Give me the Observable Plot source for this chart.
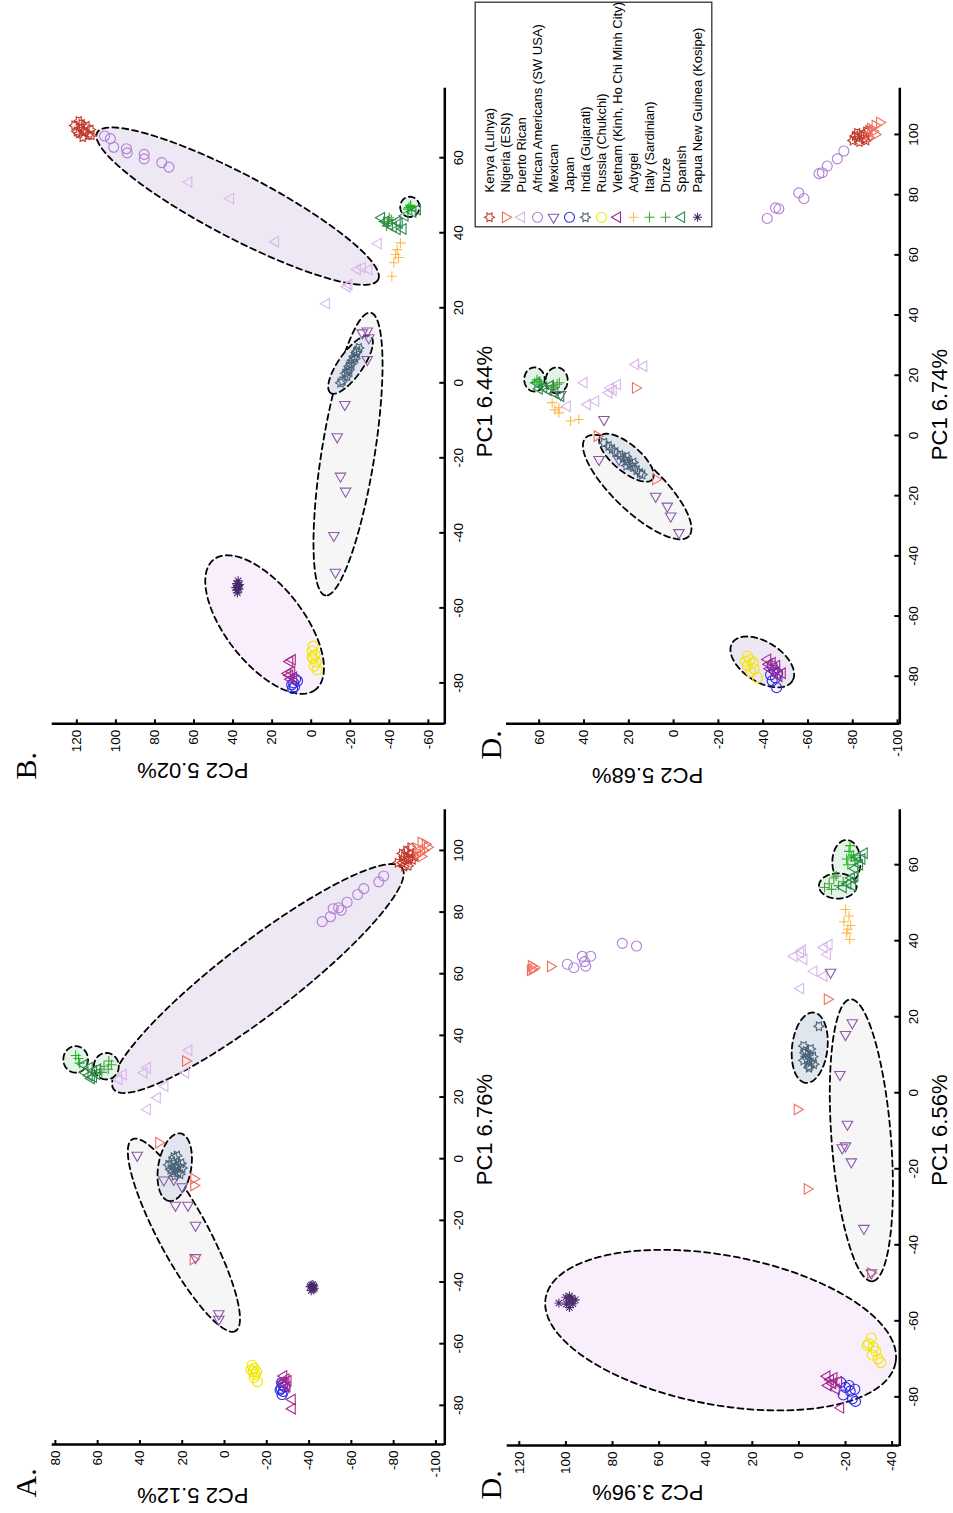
<!DOCTYPE html>
<html><head><meta charset="utf-8">
<script src="https://cdn.jsdelivr.net/npm/d3@7"></script>
<script src="https://cdn.jsdelivr.net/npm/@observablehq/plot@0.6"></script>
<style>
html,body{margin:0;padding:0;width:953px;height:1513px;overflow:hidden;background:#fff;}
#fig{position:absolute;left:0;top:0;width:1513px;height:953px;transform-origin:0 0;transform:translate(0px,1513px) rotate(-90deg);font-family:"Liberation Sans",Arial,sans-serif;}
.panel{position:absolute;}
</style></head><body><div id="fig"></div><script>
// ---------- groups ----------
const groupKeys = ["kenya","nigeria","puerto","afam","mexican","japan","india","russia","vietnam","adygei","italy","druze","spanish","papua"];
const groupLabels = ["Kenya (Luhya)","Nigeria (ESN)","Puerto Rican","African Americans (SW USA)","Mexican","Japan","India (Gujarati)","Russia (Chukchi)","Vietnam (Kinh, Ho Chi Minh City)","Adygei","Italy (Sardinian)","Druze","Spanish","Papua New Guinea (Kosipe)"];
const groupColors = ["#C0392B","#F07060","#D8B6EA","#B07FD6","#8A5AA6","#2B2BE6","#4A6378","#F2E600","#A3288C","#FFB84A","#1FB51F","#45A33A","#2E8B4A","#4B2A6B"];
const groupShapes = ["hexagram","triDown","triUp","circle","triLeft","circle","hexagram","circle","triUp","plus","plus","plus","triUp","asterisk"];

// ---------- panel titles ----------
const panelLetters = ["A.","B.","D.","D."];
const xTitles = ["PC1 6.76%","PC1 6.44%","PC1 6.56%","PC1 6.74%"];
const yTitles = ["PC2 5.12%","PC2 5.02%","PC2 3.96%","PC2 5.68%"];

// ---------- ticks ----------
const xTicksA = [-80,-60,-40,-20,0,20,40,60,80,100];
const yTicksA = [-100,-80,-60,-40,-20,0,20,40,60,80];
const xTicksB = [-80,-60,-40,-20,0,20,40,60];
const yTicksB = [-60,-40,-20,0,20,40,60,80,100,120];
const xTicksDL = [-80,-60,-40,-20,0,20,40,60];
const yTicksDL = [-40,-20,0,20,40,60,80,100,120];
const xTicksDR = [-80,-60,-40,-20,0,20,40,60,80,100];
const yTicksDR = [-100,-80,-60,-40,-20,0,20,40,60];

// ---------- points [group, PC1, PC2] ----------
const pointsA = [
["kenya",96,-84],["kenya",97,-86],["kenya",98,-85],["kenya",99,-88],["kenya",95,-87],["kenya",97,-89],["kenya",100,-86],["kenya",98,-90],["kenya",96,-82],["kenya",94.8,-85],["kenya",99,-84],["kenya",101,-88],["kenya",97.5,-87.5],
["nigeria",99,-92],["nigeria",100,-94],["nigeria",101,-96],["nigeria",102,-95],["nigeria",98,-93],["nigeria",100.5,-91.5],["nigeria",102.6,-93],["nigeria",31.7,18.4],["nigeria",5.2,31.1],["nigeria",-6.5,14.5],["nigeria",-8.7,14.5],["nigeria",-32.7,14.8],
["puerto",25.7,50],["puerto",27.3,47.9],["puerto",27.9,38.1],["puerto",29.5,36.5],["puerto",19.8,31.8],["puerto",23.5,28.2],["puerto",16,36.5],["puerto",35.2,16.9],["puerto",27.9,18.4],
["afam",76.9,-46.2],["afam",78.5,-50.1],["afam",81.1,-51.4],["afam",81.4,-54],["afam",80.6,-55.2],["afam",83.2,-58],["afam",85.7,-63],["afam",87.6,-65.9],["afam",89.8,-73],["afam",91.7,-75.3],
["mexican",1.1,41.3],["mexican",-6.9,28.7],["mexican",-6.7,24],["mexican",-9.1,20],["mexican",-15.1,23.2],["mexican",-15.1,17.3],["mexican",-21.6,13.7],["mexican",-32.1,13.7],["mexican",-50.3,2.7],["mexican",-52.1,2.7],
["india",-3,23],["india",-2,22],["india",-4,24.5],["india",-1,25],["india",-5,21],["india",-3,20],["india",-2,26.5],["india",-4.5,22],["india",0.5,24],["india",-5.5,23.5],["india",-2.5,24],["india",1,22.5],["india",-1.5,20.5],["india",-3.5,25.5],
["russia",-67,-13],["russia",-68,-14],["russia",-69,-13.5],["russia",-70,-14.5],["russia",-69,-15.2],["russia",-71,-14],["russia",-72.3,-15.6],["russia",-68.5,-12.6],
["japan",-72.6,-27],["japan",-73.5,-27.5],["japan",-74.5,-26.8],["japan",-75.5,-27.8],["japan",-76.5,-27.2],["japan",-74,-28.5],["japan",-75,-26.3],
["vietnam",-70.5,-28],["vietnam",-71.5,-29],["vietnam",-72,-30],["vietnam",-73,-28.5],["vietnam",-74,-29.5],["vietnam",-72.5,-27.5],["vietnam",-78.1,-32],["vietnam",-81.1,-32],
["papua",-41.8,-41.5],["papua",-41,-41],["papua",-42.5,-42],["papua",-41.5,-40.5],["papua",-42,-42.5],["papua",-40.8,-41.8],["papua",-42.8,-41],["papua",-41.3,-42.3],
["italy",33.5,70.4],["italy",32.5,69],["italy",31,68.5],
["druze",31.7,54.7],["druze",30,57],["druze",29,55],["druze",30.5,53.5],["druze",28,58],
["spanish",29.5,64],["spanish",28.5,62],["spanish",27.5,60.5],["spanish",26.5,62],["spanish",28,66],["spanish",27,64],["spanish",26,63],["spanish",29,60],["spanish",30.5,66.5]
];
const pointsB = [
["kenya",66,114],["kenya",67,116],["kenya",68,118],["kenya",66.5,119],["kenya",67.5,113],["kenya",68.5,115],["kenya",65.5,117],["kenya",69,117.5],["kenya",67,120],["kenya",68.6,121.2],["kenya",66,112.5],["kenya",69.8,119],
["afam",65.8,105.8],["afam",65.1,102.8],["afam",62.8,101.1],["afam",62.4,94.6],["afam",61.3,94.2],["afam",60.9,85.5],["afam",59.7,85.5],["afam",58.7,76.5],["afam",57.5,72.8],
["puerto",53.5,62.7],["puerto",49.1,41.3],["puerto",37.6,18.3],["puerto",26.2,-19.3],["puerto",25.6,-18.4],["puerto",30.2,-23.6],["puerto",30.7,-26.1],["puerto",30.2,-29.5],["puerto",37.1,-34.3],["puerto",21.1,-7.8],
["adygei",37.3,-45.7],["adygei",34.2,-43.2],["adygei",32,-42.3],["adygei",33.4,-44.7],["adygei",28.4,-41.3],["adygei",35.5,-44],
["spanish",44,-36],["spanish",43,-38],["spanish",42,-40],["spanish",41.5,-42],["spanish",43,-44],["spanish",42.5,-45],["spanish",41,-47],["spanish",44.5,-48],["spanish",46.2,-54.3],["spanish",45.5,-52],["spanish",40.9,-44],
["druze",43,-37],["druze",42.5,-39],["druze",44,-40],["druze",41.8,-38.5],["druze",43.5,-41],
["italy",46.7,-50],["italy",47,-51],["italy",46.3,-49.5],["italy",47.3,-50.8],["italy",46,-51.5],
["india",9.3,-24.4],["india",8,-23],["india",7,-22],["india",6,-21],["india",5,-20.5],["india",4.4,-19.3],["india",3,-18.5],["india",1.8,-18.4],["india",0.5,-16],["india",0,-15],["india",2.5,-17.5],["india",6.5,-22.5],["india",8.5,-23.5],["india",3.5,-19.5],
["mexican",13.3,-26.1],["mexican",13.8,-28.7],["mexican",12,-29.5],["mexican",6.2,-28.7],["mexican",-5.8,-17.2],["mexican",-14.4,-13.3],["mexican",-24.9,-15],["mexican",-28.9,-17.6],["mexican",-40.7,-11.6],["mexican",-50.5,-12.4],
["papua",-54.2,37.6],["papua",-53.5,38.2],["papua",-55,37],["papua",-54.6,38.6],["papua",-53.8,36.8],["papua",-55.2,38],["papua",-54,37.2],["papua",-56,37.8],["papua",-52.8,37.4],
["vietnam",-73.8,9.7],["vietnam",-74.3,11],["vietnam",-77,10],["vietnam",-78,11],["vietnam",-78.5,9],["vietnam",-77.5,12],["vietnam",-79,10.5],
["japan",-79,8],["japan",-80,9],["japan",-81,8.5],["japan",-80.5,10],["japan",-79.5,7],["japan",-81.5,9.5],
["russia",-70.2,-1],["russia",-71.5,-0.5],["russia",-72.5,-2],["russia",-73.5,-1],["russia",-74.5,-2.5],["russia",-75.5,-1.5],["russia",-76.5,-3],["russia",-73,-0.5]
];
const pointsDL = [
["nigeria",32.4,114.4],["nigeria",32.9,113.7],["nigeria",33.4,114.8],["nigeria",32.2,115.2],["nigeria",33.2,106.6],["nigeria",24.6,-12.2],["nigeria",-4.4,0.7],["nigeria",-25.3,-3.6],["nigeria",-47.4,-30.8],
["afam",33.8,99.4],["afam",32.9,96.6],["afam",35.9,93],["afam",33.3,91.5],["afam",35.9,89.4],["afam",34.5,92],["afam",39.3,75.8],["afam",38.6,69.7],
["puerto",35.9,2.1],["puerto",36.8,-0.7],["puerto",35.1,-2.1],["puerto",38.2,-10.7],["puerto",39,-12.9],["puerto",36.4,-12.2],["puerto",32,-6.4],["puerto",30.7,-10.7],["puerto",27.4,-0.7],["puerto",37.5,-1.5],
["mexican",31.7,-13.6],["mexican",18.4,-22.9],["mexican",15.3,-20],["mexican",4.8,-17.6],["mexican",-8.3,-20.8],["mexican",-14,-20],["mexican",-14.5,-18.6],["mexican",-18.2,-22.5],["mexican",-35.7,-27.9],["mexican",-47.4,-31.1],
["india",12.3,-2],["india",11,-3],["india",10,-4],["india",9,-3.5],["india",8,-5],["india",7,-4.5],["india",6.6,-4.3],["india",9.5,-6],["india",10.5,-2.5],["india",8.5,-2],["india",7.5,-6.4],["india",11.5,-5],["india",17.5,-8.6],
["adygei",48.2,-20],["adygei",46.5,-21.5],["adygei",45,-19.3],["adygei",44,-22.2],["adygei",42,-20.5],["adygei",40.3,-21.8],["adygei",43,-21],
["italy",60,-21],["italy",62,-22.5],["italy",63.5,-21.5],["italy",65,-22],["italy",61,-24],["italy",62.5,-23.5],["italy",61.5,-20.5],
["druze",54,-11],["druze",55,-13],["druze",56.5,-15],["druze",54.5,-17],["druze",55.5,-19],["druze",57,-16],["druze",53.5,-14],
["spanish",59,-24],["spanish",60,-26],["spanish",61.5,-27],["spanish",63,-28],["spanish",62,-25],["spanish",54,-19],["spanish",55,-21],["spanish",56.5,-22.5],["spanish",57,-24],["spanish",54.5,-23],
["vietnam",-74.6,-12],["vietnam",-75.5,-13.5],["vietnam",-76.5,-14.5],["vietnam",-77,-12.5],["vietnam",-78,-16],["vietnam",-76,-17],["vietnam",-75,-15],["vietnam",-82.9,-17.9],
["japan",-76.2,-18],["japan",-77.5,-20],["japan",-78.5,-22],["japan",-79.5,-19],["japan",-80.5,-23],["japan",-81.2,-24.3],["japan",-78,-24],["japan",-77,-21.5],
["russia",-64.5,-31],["russia",-66,-30],["russia",-67,-32],["russia",-68,-33],["russia",-69,-31.5],["russia",-70,-34],["russia",-71,-35.1],["russia",-66.5,-29.3],
["papua",-54.8,98.7],["papua",-54,97.5],["papua",-55.6,99.8],["papua",-53.8,100],["papua",-55.5,97],["papua",-54.5,96],["papua",-56.5,98.5],["papua",-53.5,98.5],["papua",-55.3,103]
];
const pointsDR = [
["kenya",98,-80],["kenya",99,-82],["kenya",100,-84],["kenya",101,-86],["kenya",98.5,-85],["kenya",99.5,-81],["kenya",97.5,-83],["kenya",100.5,-82],["kenya",101.5,-87],["kenya",98,-86],
["nigeria",102,-88],["nigeria",103,-90],["nigeria",104,-92],["nigeria",101,-89],["nigeria",99,-87],["nigeria",100,-90],["nigeria",15.8,17],["nigeria",-0.2,34.1],["nigeria",-14.6,8],
["afam",72.1,-41.8],["afam",75.6,-45.5],["afam",75.3,-47],["afam",80.6,-55.9],["afam",78.7,-58.2],["afam",87,-64.9],["afam",87.3,-66.4],["afam",89.5,-68.6],["afam",91.9,-73.1],["afam",94.5,-76],
["puerto",23.6,17],["puerto",23,13.3],["puerto",17.5,40],["puerto",15.8,28.1],["puerto",16.9,25.1],["puerto",14.2,28.9],["puerto",11.4,34.8],["puerto",10.3,38.5],["puerto",9.7,47.5],["puerto",15,27],
["mexican",13.6,50.4],["mexican",5.3,31.1],["mexican",-8,33.3],["mexican",-8,24.4],["mexican",-20.2,8],["mexican",-23.5,2.8],["mexican",-26.8,1.3],["mexican",-32.3,-2.4],
["india",-2.4,31],["india",-3.5,29],["india",-4.5,27.5],["india",-5.5,26],["india",-6.5,24],["india",-7.5,22.5],["india",-8.5,21],["india",-9.5,19.5],["india",-10.5,18],["india",-11.5,16.5],["india",-12.5,15],["india",-13,14],["india",-9,18],["india",-7,21],["india",-10,21],
["adygei",10.9,54.2],["adygei",9.2,51.2],["adygei",7.5,51.2],["adygei",4.8,46],["adygei",5.3,42.3],["adygei",8.5,53],
["italy",18,60],["italy",17.5,62],["italy",18.5,61],["italy",17,59],
["druze",17,52],["druze",16,53],["druze",17.5,51],["druze",16.5,54],
["spanish",17.5,61],["spanish",16,58],["spanish",15,56],["spanish",14,53],["spanish",13,50.4],["spanish",16.5,55],["spanish",15.5,60],
["vietnam",-74.4,-42],["vietnam",-75.5,-44],["vietnam",-76.5,-46],["vietnam",-77.5,-43],["vietnam",-78.5,-45],["vietnam",-80,-47],["vietnam",-79,-48.5],["vietnam",-76,-42.5],
["japan",-76.6,-44],["japan",-78,-45],["japan",-79,-46.5],["japan",-80.5,-45.5],["japan",-81.5,-44],["japan",-83.8,-46],["japan",-79.5,-43.3],
["russia",-73.3,-33],["russia",-74.5,-34],["russia",-75.5,-35.5],["russia",-76.5,-33],["russia",-77.5,-36],["russia",-78.5,-34.5],["russia",-80.5,-37.4],["russia",-75,-32.1]
];

// ---------- ellipses [fill, PC1 end1, PC2 end1, PC1 end2, PC2 end2, minor/major] ----------
const ellipsesA = [["lav",22.5,52.4,94.4,-84,0.2],["gray",6.3,43.6,-55.9,-5.2,0.23],["slate",8.2,20.8,-13.7,26.3,0.48],["green",36.5,70.4,27.9,70.4,0.93],["green",34.3,55.9,25.7,55.9,0.94]];
const ellipsesB = [["lav",66.7,109.6,27.5,-34.3,0.2],["gray",18.7,-30.4,-56.7,-7.3,0.185],["slate",12.4,-30.4,-2.7,-9.9,0.35],["pink",-47.1,49.9,-81.8,-2.2,0.47],["green",49.6,-50.5,44.2,-50.5,0.95]];
const ellipsesDL = [["pink",-53.9,108.7,-71,-41.5,0.42],["gray",24.6,-22.1,-49.6,-31.5,0.21],["slate",21.1,-6.4,2.6,-2.9,0.5],["green",66.5,-20.4,54.9,-20.4,0.64],["green",54.4,-8.6,54.4,-24.8,0.67]];
const ellipsesDR = [["lav2",-68.9,-26.2,-81.6,-53,0.56],["gray",-0.8,39.3,-33.5,-6.8,0.34],["slate",-0.2,32.6,-14.6,9.5,0.4],["green",22.6,62.1,14.6,62.1,0.85],["green",22.6,52.2,14,52.2,0.85]];
const ellipseFills = {lav:"#EEE7F4", gray:"#F6F6F6", slate:"#E1E5ED", green:"#E3F3E7", pink:"#F8EEFC", lav2:"#EDE7F3"};

// ---------- symbols ----------
function rr(s){ return Math.sqrt(s/Math.PI); }
const symbols = {
  circle:{draw(c,s){const r=rr(s); c.moveTo(r,0); c.arc(0,0,r,0,2*Math.PI);}},
  triUp:{draw(c,s){const r=rr(s)*1.05; c.moveTo(0,-1.15*r); c.lineTo(r,0.58*r); c.lineTo(-r,0.58*r); c.closePath();}},
  triDown:{draw(c,s){const r=rr(s)*1.05; c.moveTo(0,1.15*r); c.lineTo(r,-0.58*r); c.lineTo(-r,-0.58*r); c.closePath();}},
  triLeft:{draw(c,s){const r=rr(s)*1.05; c.moveTo(-1.15*r,0); c.lineTo(0.58*r,-r); c.lineTo(0.58*r,r); c.closePath();}},
  hexagram:{draw(c,s){const R=rr(s), q=R/Math.sqrt(3); for(let i=0;i<12;i++){const a=i*Math.PI/6-Math.PI/2, m=i%2?q:R; const x=m*Math.cos(a), y=m*Math.sin(a); if(i) c.lineTo(x,y); else c.moveTo(x,y);} c.closePath();}},
  plus:{draw(c,s){const r=rr(s); c.moveTo(-r,0); c.lineTo(r,0); c.moveTo(0,-r); c.lineTo(0,r);}},
  asterisk:{draw(c,s){const r=rr(s); for(let i=0;i<4;i++){const a=i*Math.PI/4; c.moveTo(-r*Math.cos(a),-r*Math.sin(a)); c.lineTo(r*Math.cos(a),r*Math.sin(a));}}}
};
const symbolR = {circle:5, triUp:5, triDown:5, triLeft:5, hexagram:5, plus:5, asterisk:4.5};

function ellipsePts(e, kx, ky){
  const [f,x1,y1,x2,y2,r] = e;
  const cx=(x1+x2)/2, cy=(y1+y2)/2, ux=(x2-x1)/2, uy=(y2-y1)/2;
  const vx=r*uy*ky/kx, vy=-r*ux*kx/ky;
  return d3.range(96).map(i=>{const t=i/96*2*Math.PI; return {x:cx+ux*Math.cos(t)+vx*Math.sin(t), y:cy+uy*Math.cos(t)+vy*Math.sin(t)};});
}

const fmt = d => String(d);
const fig = document.getElementById("fig");

function makePanel(cfg){
  const {left, top, width, height, ml, mr, mt, mb, xDomain, yDomain, xTicks, yTicks, points, ellipses, idx, xdx, xdy, ydx, ldx, ldy} = cfg;
  const iw = width-ml-mr, ih = height-mt-mb;
  const kx = iw/(xDomain[1]-xDomain[0]), ky = ih/(yDomain[1]-yDomain[0]);
  const marks = [];
  ellipses.forEach(e=>{
    marks.push(Plot.line(ellipsePts(e,kx,ky),{x:"x",y:"y",curve:"linear-closed",fill:ellipseFills[e[0]],stroke:"#000",strokeWidth:1.8,strokeDasharray:"6,4"}));
  });
  groupKeys.forEach((g,i)=>{
    const d = points.filter(p=>p[0]===g);
    if(!d.length) return;
    const sh = groupShapes[i];
    marks.push(Plot.dot(d,{x:p=>p[1],y:p=>p[2],r:symbolR[sh],symbol:symbols[sh],stroke:groupColors[i],fill:"none",strokeWidth:1.1}));
  });
  marks.push(Plot.ruleY([yDomain[0]],{stroke:"#000",strokeWidth:2.5}));
  marks.push(Plot.ruleX([xDomain[0]],{stroke:"#000",strokeWidth:2.5}));
  marks.push(Plot.ruleX(xTicks,{x:d=>d,insetTop:ih-5,stroke:"#000",strokeWidth:2}));
  marks.push(Plot.ruleY(yTicks,{y:d=>d,insetRight:iw-5,stroke:"#000",strokeWidth:2}));
  marks.push(Plot.text([xTitles[idx]],{text:d=>d,frameAnchor:"bottom",dx:xdx,dy:xdy,fontSize:22,lineAnchor:"bottom",fill:"#000"}));
  marks.push(Plot.text([yTitles[idx]],{text:d=>d,frameAnchor:"left",dx:ydx,rotate:-90,fontSize:22,lineAnchor:"bottom",fill:"#000"}));
  marks.push(Plot.text([panelLetters[idx]],{text:d=>d,frameAnchor:"top-left",dx:ldx,dy:ldy,fontSize:30,fontFamily:"Liberation Serif, Times New Roman, serif",textAnchor:"start",lineAnchor:"bottom",fill:"#000"}));
  const svg = Plot.plot({
    width, height, marginLeft:ml, marginRight:mr, marginTop:mt, marginBottom:mb,
    style:{background:"transparent",overflow:"visible",maxWidth:"none",fontSize:"13.5px",fontFamily:"Liberation Sans, Arial, sans-serif",color:"#000"},
    x:{domain:xDomain, ticks:xTicks, tickSize:0, tickPadding:9, tickFormat:fmt, label:null},
    y:{domain:yDomain, ticks:yTicks, tickSize:0, tickPadding:6, tickFormat:fmt, label:null},
    marks
  });
  const div = document.createElement("div");
  div.className="panel"; div.style.left=left+"px"; div.style.top=top+"px"; div.style.width=width+"px"; div.style.height=height+"px";
  div.appendChild(svg); fig.appendChild(div);
}

makePanel({idx:0,left:0,top:0,width:740,height:520,ml:68,mr:36.3,mt:51.7,mb:75.7,xDomain:[-92.7,113.5],yDomain:[-104.2,81.5],xTicks:xTicksA,yTicks:yTicksA,points:pointsA,ellipses:ellipsesA,xdx:-3,xdy:46.7,ydx:-43.3,ldx:-53,ldy:-16.7});
makePanel({idx:1,left:700,top:0,width:813,height:520,ml:88.7,mr:87.7,mt:51.7,mb:75.7,xDomain:[-90.9,78.8],yDomain:[-68.4,132.6],xTicks:xTicksB,yTicks:yTicksB,points:pointsB,ellipses:ellipsesB,xdx:4,xdy:47.3,ydx:-39,ldx:-55.7,ldy:-16.7});
makePanel({idx:2,left:0,top:460,width:740,height:493,ml:67,mr:36.3,mt:46.7,mb:53.7,xDomain:[-92.8,74.7],yDomain:[-43.3,125.2],xTicks:xTicksDL,yTicks:yTicksDL,points:pointsDL,ellipses:ellipsesDL,xdx:-3,xdy:47.4,ydx:-39,ldx:-54,ldy:-6.7});
makePanel({idx:3,left:700,top:460,width:813,height:493,ml:88.7,mr:87.7,mt:46,mb:53.7,xDomain:[-95.8,115.7],yDomain:[-101,74.6],xTicks:xTicksDR,yTicks:yTicksDR,points:pointsDR,ellipses:ellipsesDR,xdx:1,xdy:47.4,ydx:-44,ldx:-35.7,ldy:-6});

// ---------- legend ----------
(function(){
  const marks = [Plot.frame({stroke:"#333",strokeWidth:1.3,inset:0.7})];
  groupLabels.forEach((lab,i)=>{
    const sh = groupShapes[i];
    marks.push(Plot.dot([lab],{x:()=>10.2,y:d=>d,r:symbolR[sh],symbol:symbols[sh],stroke:groupColors[i],fill:"none",strokeWidth:1.1}));
  });
  marks.push(Plot.text(groupLabels,{x:()=>35,y:d=>d,text:d=>d,textAnchor:"start",fontSize:13,fill:"#000"}));
  const svg = Plot.plot({
    width:226, height:238, margin:0,
    style:{background:"#fff",overflow:"visible",maxWidth:"none",fontFamily:"Liberation Sans, Arial, sans-serif"},
    x:{type:"identity",axis:null},
    y:{type:"point",domain:groupLabels,range:[9,228],padding:0,axis:null},
    marks
  });
  const div = document.createElement("div");
  div.className="panel"; div.style.left="1284.5px"; div.style.top="474.3px"; div.style.width="226px"; div.style.height="238px";
  div.appendChild(svg); fig.appendChild(div);
})();
</script></body></html>
